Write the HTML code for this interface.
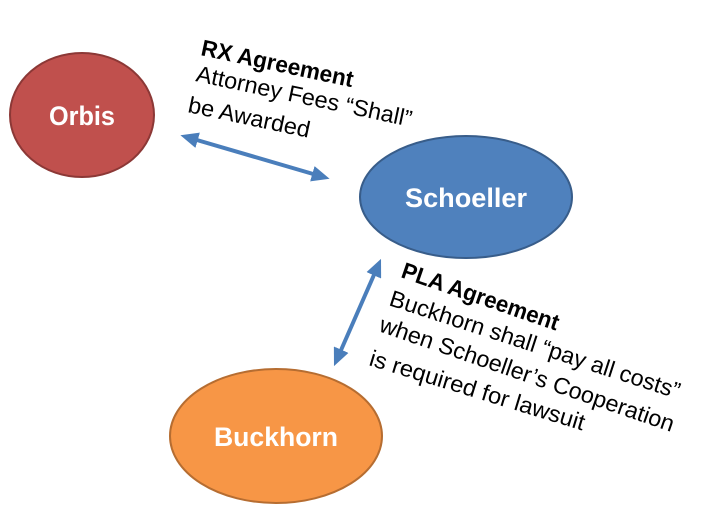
<!DOCTYPE html>
<html><head><meta charset="utf-8"><style>
html,body{margin:0;padding:0;background:#fff;}
svg{display:block;}
text{font-family:"Liberation Sans",sans-serif;}
</style></head><body>
<svg width="704" height="528" viewBox="0 0 704 528" xmlns="http://www.w3.org/2000/svg">
<defs>
<marker id="ah" markerWidth="4.5" markerHeight="4" refX="2" refY="2" orient="auto-start-reverse" markerUnits="strokeWidth">
<path d="M0,0 L4.5,2 L0,4 z" fill="#4a7ebb"/>
</marker>
</defs>
<ellipse cx="82" cy="115" rx="72" ry="62" fill="#c0504d" stroke="#8c3836" stroke-width="2"/>
<text x="82" y="125" font-size="27" font-weight="bold" fill="#fff" text-anchor="middle" textLength="66" lengthAdjust="spacingAndGlyphs">Orbis</text>
<ellipse cx="466" cy="197" rx="106" ry="61" fill="#4f81bd" stroke="#385d8a" stroke-width="2"/>
<text x="466" y="207" font-size="27" font-weight="bold" fill="#fff" text-anchor="middle" textLength="122" lengthAdjust="spacingAndGlyphs">Schoeller</text>
<ellipse cx="276" cy="436" rx="106" ry="67" fill="#f79646" stroke="#b66d31" stroke-width="2"/>
<text x="276" y="446" font-size="27" font-weight="bold" fill="#fff" text-anchor="middle" textLength="124" lengthAdjust="spacingAndGlyphs">Buckhorn</text>

<line x1="190" y1="138" x2="320" y2="176" stroke="#4a7ebb" stroke-width="4" marker-start="url(#ah)" marker-end="url(#ah)"/>
<line x1="377" y1="268" x2="338" y2="357" stroke="#4a7ebb" stroke-width="4" marker-start="url(#ah)" marker-end="url(#ah)"/>

<g font-size="23" fill="#000">
<text x="200" y="55" font-weight="bold" transform="rotate(12 200 55)" textLength="155" lengthAdjust="spacingAndGlyphs">RX Agreement</text>
<text x="195" y="81" transform="rotate(12 195 81)" textLength="220" lengthAdjust="spacingAndGlyphs">Attorney Fees “Shall”</text>
<text x="187" y="112" transform="rotate(12 187 112)" textLength="124" lengthAdjust="spacingAndGlyphs">be Awarded</text>

<text x="400" y="277" font-weight="bold" transform="rotate(19 400 277)" textLength="165" lengthAdjust="spacingAndGlyphs">PLA Agreement</text>
<text x="388" y="305" transform="rotate(18 388 305)" textLength="304" lengthAdjust="spacingAndGlyphs">Buckhorn shall “pay all costs”</text>
<text x="378" y="331" transform="rotate(19 378 331)" textLength="310" lengthAdjust="spacingAndGlyphs">when Schoeller’s Cooperation</text>
<text x="368" y="365" transform="rotate(17 368 365)" textLength="224" lengthAdjust="spacingAndGlyphs">is required for lawsuit</text>
</g>
</svg>
</body></html>
